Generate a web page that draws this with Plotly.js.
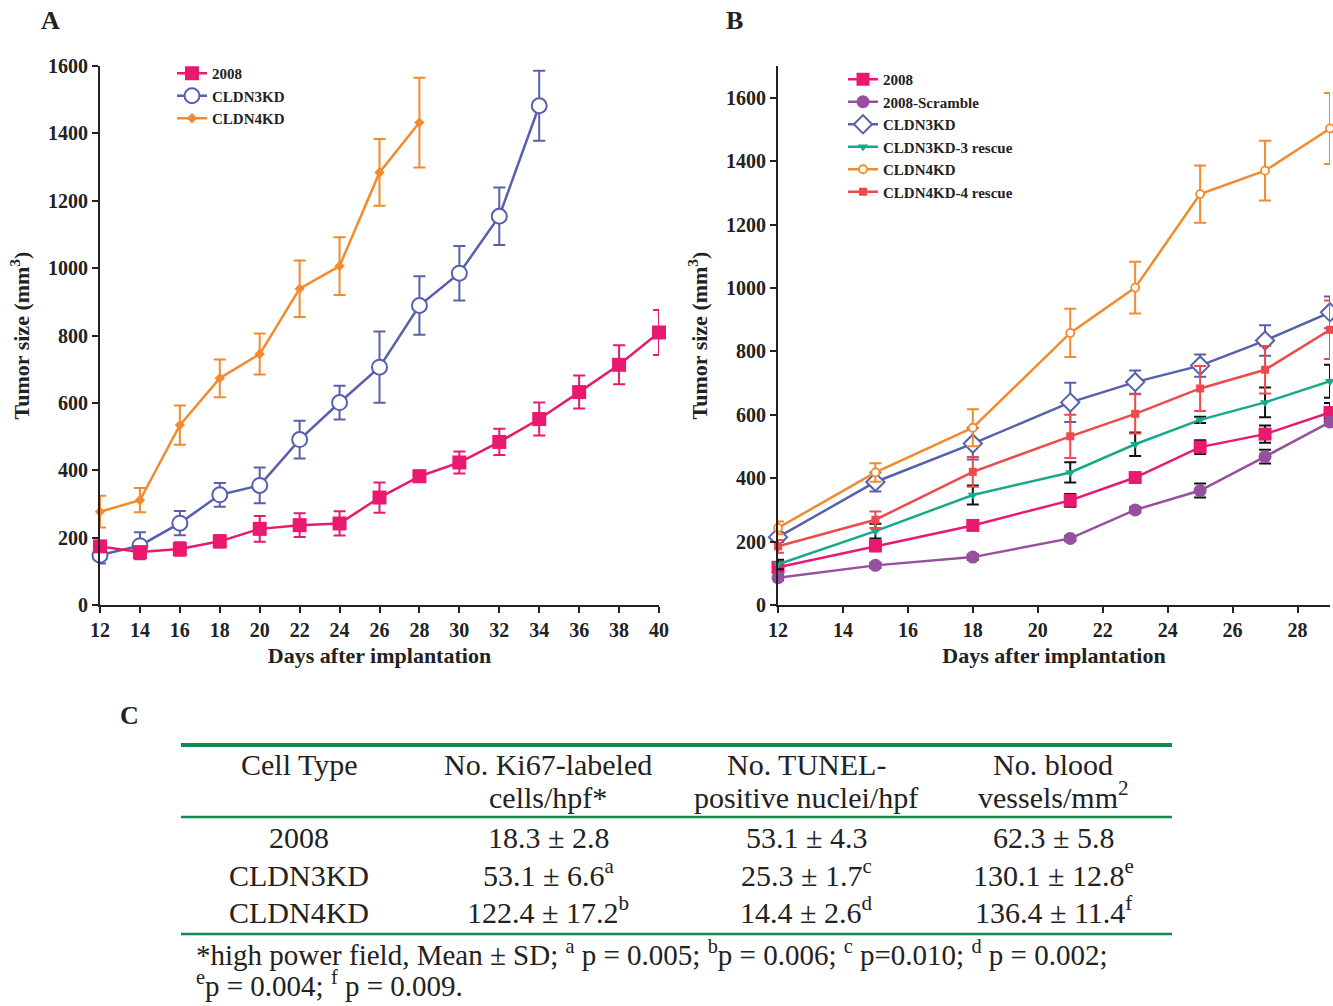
<!DOCTYPE html>
<html><head><meta charset="utf-8">
<script src="https://cdn.plot.ly/plotly-3.0.1.min.js"></script>
<style>body{margin:0;background:#fff}#c{width:1333px;height:1006px}</style>
</head><body><div id="c"></div>
<script>
// ---------- Panel A data ----------
const daysA = [12,14,16,18,20,22,24,26,28,30,32,34,36,38,40];
const a2008 = [174,157,166,189,226,237,242,319,382,423,484,552,632,713,809];
const a2008Err = [15,15,20,18,38,35,36,45,17,33,39,49,49,58,67];
const daysA3 = [12,14,16,18,20,22,24,26,28,30,32,34];
const aCldn3 = [148,176,243,327,355,491,601,706,889,985,1154,1482];
const aCldn3Err = [25,40,36,35,53,56,50,106,87,81,85,104];
const daysA4 = [12,14,16,18,20,22,24,26,28];
const aCldn4 = [277,311,534,673,745,939,1006,1284,1432];
const aCldn4Err = [47,36,58,56,61,84,86,99,133];

// ---------- Panel B data ----------
const daysB = [12,15,18,21,23,25,27,29];
const b2008 = [119,186,251,330,402,498,539,607];
const b2008Err = [10,10,8,20,10,22,27,30];
const bScr = [86,125,151,210,300,361,468,577];
const bScrErr = [8,8,8,8,8,22,22,10];
const bCldn3 = [214,388,509,639,703,755,834,923];
const bCldn3Err = [15,30,50,62,37,35,48,50];
const bRes3 = [128,233,347,418,507,584,639,706];
const bRes3Err = [15,23,30,32,37,10,47,52];
const bCldn4 = [243,418,559,858,1001,1296,1370,1503];
const bCldn4Err = [20,29,58,76,82,90,94,112];
const bRes4 = [185,269,420,532,603,683,742,868];
const bRes4Err = [20,26,47,68,62,71,75,92];

// ---------- Table C ----------
const tableHeaders1 = ['Cell Type','No. Ki67-labeled','No. TUNEL-','No. blood'];
const tableHeaders2 = ['','cells/hpf*','positive nuclei/hpf','vessels/mm<sup>2</sup>'];
const cellTypes = ['2008','CLDN3KD','CLDN4KD'];
const ki67 = ['18.3 ± 2.8','53.1 ± 6.6<sup>a</sup>','122.4 ± 17.2<sup>b</sup>'];
const tunel = ['53.1 ± 4.3','25.3 ± 1.7<sup>c</sup>','14.4 ± 2.6<sup>d</sup>'];
const vessels = ['62.3 ± 5.8','130.1 ± 12.8<sup>e</sup>','136.4 ± 11.4<sup>f</sup>'];
const footnote1 = '*high power field, Mean ± SD; <sup>a</sup> p = 0.005; <sup>b</sup>p = 0.006; <sup>c</sup> p=0.010; <sup>d</sup> p = 0.002;';
const footnote2 = '<sup>e</sup>p = 0.004; <sup>f</sup> p = 0.009.';

const C = {pink:'#E8196E', blue:'#5660AC', orange:'#F28A2E', purple:'#96509E', teal:'#16AA88', red:'#EE4A4C'};
const FF = 'Liberation Serif, Times New Roman, serif';
const W = 1333, H = 1006;
const px = x => x / W, py = y => 1 - y / H;

function tr(x, y, err, name, color, sym, size, xa, ya, legend, errColor, hollow, mline) {
  return {
    x, y, name, type:'scatter', mode:'lines+markers', xaxis:xa, yaxis:ya, legend, cliponaxis:false,
    line:{color, width:2.5},
    marker:{symbol:sym, size, color: hollow ? '#fff' : color,
            line:{color, width: mline}},
    error_y:{type:'data', array:err, visible:true, color: errColor || color, thickness:2, width:6}
  };
}

const data = [
  tr(daysA4, aCldn4, aCldn4Err, 'CLDN4KD', C.orange, 'diamond', 8, 'x', 'y', 'legend', null, false, 0),
  tr(daysA3, aCldn3, aCldn3Err, 'CLDN3KD', C.blue, 'circle', 15, 'x', 'y', 'legend', null, true, 2),
  tr(daysA, a2008, a2008Err, '2008', C.pink, 'square', 14, 'x', 'y', 'legend', null, false, 0),
  tr(daysB, b2008, b2008Err, '2008', C.pink, 'square', 13, 'x2', 'y2', 'legend2', '#111', false, 0),
  tr(daysB, bScr, bScrErr, '2008-Scramble', C.purple, 'circle', 13, 'x2', 'y2', 'legend2', '#111', false, 0),
  tr(daysB, bCldn3, bCldn3Err, 'CLDN3KD', C.blue, 'diamond', 14, 'x2', 'y2', 'legend2', null, true, 2),
  tr(daysB, bRes3, bRes3Err, 'CLDN3KD-3 rescue', C.teal, 'triangle-down', 9, 'x2', 'y2', 'legend2', '#111', false, 0),
  tr(daysB, bCldn4, bCldn4Err, 'CLDN4KD', C.orange, 'circle', 8, 'x2', 'y2', 'legend2', null, true, 1.8),
  tr(daysB, bRes4, bRes4Err, 'CLDN4KD-4 rescue', C.red, 'square', 8, 'x2', 'y2', 'legend2', null, false, 0)
];

const axisCommon = {
  showline:true, linecolor:'#222', linewidth:2, mirror:false, showgrid:false, zeroline:false,
  ticks:'outside', ticklen:6, tickwidth:2, tickcolor:'#222',
  tickfont:{family:FF, size:20, color:'#222', weight:'bold'}
};
const titleFont = {family:FF, size:22, color:'#222', weight:'bold'};

const annotations = [];
const ann = (text, x, y, size, opts) => annotations.push(Object.assign({
  text, x:px(x), y:py(y), xref:'paper', yref:'paper', showarrow:false,
  font:{family:FF, size, color:'#222'}, xanchor:'center', yanchor:'middle'
}, opts || {}));

ann('<b>A</b>', 50, 20, 26);
ann('<b>B</b>', 734, 20, 26);
ann('<b>C</b>', 129, 715, 26);

const colX = [299, 548, 806, 1053];
const tsz = 30;
const supShift = t => t.indexOf('<sup>') >= 0 ? 2 : 0;
tableHeaders1.forEach((t,i)=>ann(t, colX[i], 764, tsz));
tableHeaders2.forEach((t,i)=>{ if(t) ann(t, colX[i], 797 - supShift(t), tsz); });
const rowsY = [837, 875, 912];
cellTypes.forEach((t,i)=>ann(t, colX[0], rowsY[i], tsz));
ki67.forEach((t,i)=>ann(t, colX[1], rowsY[i] - supShift(t), tsz));
tunel.forEach((t,i)=>ann(t, colX[2], rowsY[i] - supShift(t), tsz));
vessels.forEach((t,i)=>ann(t, colX[3], rowsY[i] - supShift(t), tsz));
ann(footnote1, 194, 953, 29, {xanchor:'left'});
ann(footnote2, 194, 984, 29, {xanchor:'left'});

const green = '#138A4E';
const shapes = [
  {type:'line', xref:'paper', yref:'paper', x0:px(181), x1:px(1172), y0:py(745), y1:py(745), line:{color:green, width:4}},
  {type:'line', xref:'paper', yref:'paper', x0:px(181), x1:px(1172), y0:py(817), y1:py(817), line:{color:green, width:2.5}},
  {type:'line', xref:'paper', yref:'paper', x0:px(181), x1:px(1172), y0:py(934), y1:py(934), line:{color:green, width:2.5}}
];

const legendCommon = {
  bgcolor:'rgba(0,0,0,0)', font:{family:FF, size:15, color:'#222', weight:'bold'},
  xanchor:'left', yanchor:'top', itemwidth:30, tracegroupgap:0
};

const layout = {
  width:W, height:H, margin:{l:0,r:0,t:0,b:0}, paper_bgcolor:'#fff', plot_bgcolor:'#fff',
  showlegend:true,
  xaxis:Object.assign({}, axisCommon, {domain:[px(100), px(659)], range:[12,40], tickvals:daysA, anchor:'y',
    title:{text:'<b>Days after implantation</b>', font:titleFont, standoff:8}}),
  yaxis:Object.assign({}, axisCommon, {domain:[py(605), py(66)], range:[0,1600], dtick:200, anchor:'x',
    title:{text:'<b>Tumor size (mm<sup>3</sup>)</b>', font:titleFont, standoff:12}}),
  xaxis2:Object.assign({}, axisCommon, {domain:[px(778), px(1330)], range:[12,29], tickvals:[12,14,16,18,20,22,24,26,28], anchor:'y2',
    title:{text:'<b>Days after implantation</b>', font:titleFont, standoff:8}}),
  yaxis2:Object.assign({}, axisCommon, {domain:[py(605), py(66)], range:[0,1700], tickvals:[0,200,400,600,800,1000,1200,1400,1600], anchor:'x2',
    title:{text:'<b>Tumor size (mm<sup>3</sup>)</b>', font:titleFont, standoff:12}}),
  legend:Object.assign({}, legendCommon, {x:px(172), y:py(57), traceorder:'reversed'}),
  legend2:Object.assign({}, legendCommon, {x:px(843), y:py(63)}),
  annotations, shapes
};

Plotly.newPlot('c', data, layout, {displayModeBar:false, staticPlot:true});
</script></body></html>
